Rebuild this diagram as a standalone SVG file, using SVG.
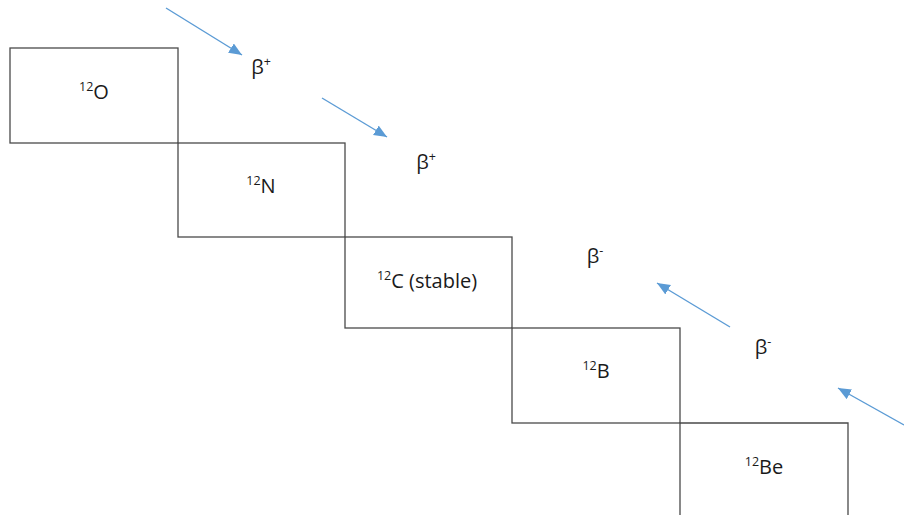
<svg xmlns="http://www.w3.org/2000/svg" width="904" height="515" viewBox="0 0 904 515">
<style>
.box{fill:none;stroke:#4a4a4a;stroke-width:1.3}
.lbl{font-family:"Open Sans","Liberation Sans",sans-serif;font-size:20px;fill:#1a1a1a;text-anchor:middle}
.sup{font-size:12.5px}
.arr{stroke:#5b9bd5;stroke-width:1.4;fill:none;marker-end:url(#ah)}
</style>
<defs>
<marker id="ah" markerUnits="userSpaceOnUse" markerWidth="15" markerHeight="12" refX="13" refY="5.5" orient="auto">
<path d="M0,0 L13,5.5 L0,11 Z" fill="#5b9bd5"/>
</marker>
</defs>
<rect width="904" height="515" fill="#fff"/>
<g id="n-O"><rect class="box" x="10" y="48" width="168" height="95"/><text class="lbl" x="94" y="99"><tspan class="sup" dy="-8">12</tspan><tspan dy="8">O</tspan></text></g>
<g id="n-N"><rect class="box" x="178" y="143" width="167" height="94"/><text class="lbl" x="261" y="193"><tspan class="sup" dy="-8">12</tspan><tspan dy="8">N</tspan></text></g>
<g id="n-C"><rect class="box" x="345" y="237" width="167" height="91"/><text class="lbl" x="427" y="288"><tspan class="sup" dy="-8">12</tspan><tspan dy="8">C (stable)</tspan></text></g>
<g id="n-B"><rect class="box" x="512" y="328" width="168" height="95"/><text class="lbl" x="596" y="378"><tspan class="sup" dy="-8">12</tspan><tspan dy="8">B</tspan></text></g>
<g id="n-Be"><path class="box" d="M680,520 V423 H848 V520"/><text class="lbl" x="764" y="474"><tspan class="sup" dy="-8">12</tspan><tspan dy="8">Be</tspan></text></g>
<g id="connectors">
<line class="arr" x1="166" y1="8" x2="242" y2="55"/>
<line class="arr" x1="322" y1="98" x2="387" y2="137"/>
<line class="arr" x1="730" y1="327" x2="657" y2="283"/>
<line class="arr" x1="904" y1="425" x2="838" y2="388"/>
</g>
<g id="labels">
<text class="lbl" x="261" y="74">β<tspan class="sup" dy="-8">+</tspan></text>
<text class="lbl" x="426" y="169">β<tspan class="sup" dy="-8">+</tspan></text>
<text class="lbl" x="595" y="263">β<tspan class="sup" dy="-8">-</tspan></text>
<text class="lbl" x="763" y="354">β<tspan class="sup" dy="-8">-</tspan></text>
</g>
</svg>
